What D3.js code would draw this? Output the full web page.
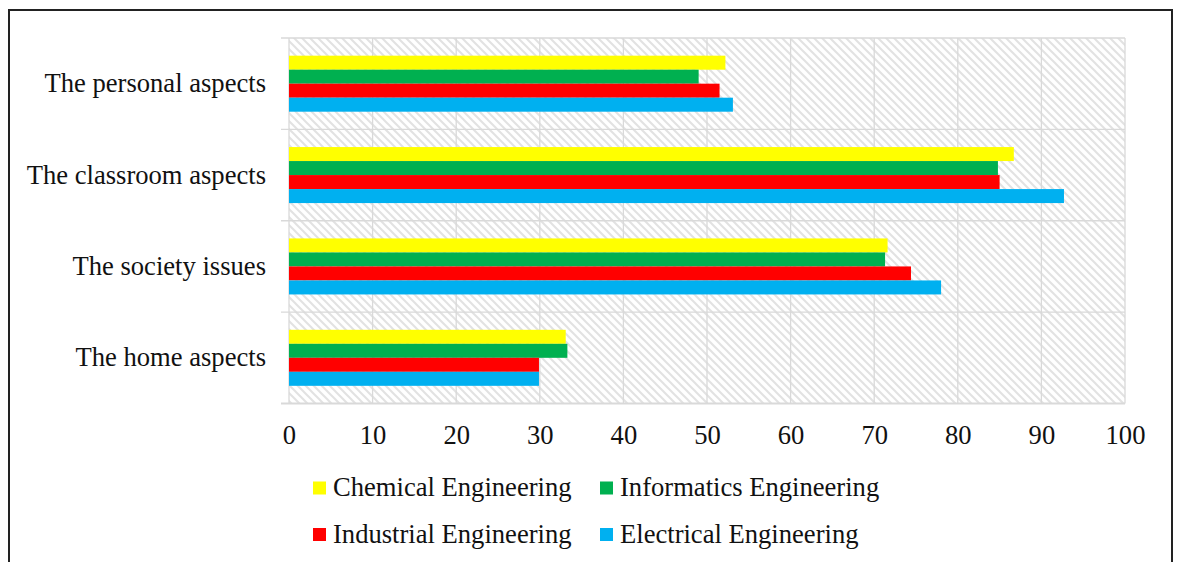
<!DOCTYPE html>
<html>
<head>
<meta charset="utf-8">
<script src="https://cdn.jsdelivr.net/npm/d3@7"></script>
<style>
  body { margin: 0; background: #fff; }
  svg text { font-family: 'Liberation Serif', 'Times New Roman', serif; fill: #111; }
</style>
</head>
<body>
<div id="container"></div>
<script>
const categories = ['The personal aspects', 'The classroom aspects', 'The society issues', 'The home aspects'];
const seriesNames = ['Chemical Engineering', 'Informatics Engineering', 'Industrial Engineering', 'Electrical Engineering'];
const chemical = [52.2, 86.7, 71.6, 33.1];
const informatics = [49.0, 84.8, 71.3, 33.3];
const industrial = [51.5, 85.0, 74.4, 29.9];
const electrical = [53.1, 92.7, 78.0, 29.9];
const xTicks = [0, 10, 20, 30, 40, 50, 60, 70, 80, 90, 100];

const svgWidth = 1180;
const svgHeight = 562;
const fontSize = '26.6px';
const colors = ['#ffff00', '#00b050', '#ff0000', '#00b0f0'];
const seriesValues = [chemical, informatics, industrial, electrical];

const svg = d3
  .select('#container')
  .append('svg')
  .attr('width', svgWidth)
  .attr('height', svgHeight);

// hatch pattern for the plot background
const pattern = svg
  .append('defs')
  .append('pattern')
  .attr('id', 'hatch')
  .attr('patternUnits', 'userSpaceOnUse')
  .attr('width', 8)
  .attr('height', 8);
pattern.append('rect').attr('width', 8).attr('height', 8).attr('fill', '#fff');
pattern
  .append('path')
  .attr('d', 'M-2,-2 L10,10 M-2,6 L2,10 M6,-2 L10,2')
  .attr('stroke', '#e2e2e2')
  .attr('stroke-width', 2);

// scales
const x = d3.scaleLinear().domain([0, 100]).range([289, 1125]);
const y = d3
  .scaleBand()
  .domain(categories)
  .range([38, 403.5])
  .paddingInner(0.387)
  .paddingOuter(0.1935);
const inner = d3.scaleBand().domain(seriesNames).range([0, y.bandwidth()]);

const bandEdges = categories.map(c => y(c) - (y.step() - y.bandwidth()) / 2);
bandEdges.push(y.range()[1]);

// plot background
svg
  .append('rect')
  .attr('x', x(0))
  .attr('y', y.range()[0])
  .attr('width', x(100) - x(0))
  .attr('height', y.range()[1] - y.range()[0])
  .attr('fill', 'url(#hatch)');

// gridlines
svg
  .selectAll('.vgrid')
  .data(xTicks)
  .enter()
  .append('line')
  .attr('x1', d => x(d))
  .attr('x2', d => x(d))
  .attr('y1', y.range()[0])
  .attr('y2', y.range()[1])
  .attr('stroke', '#d9d9d9')
  .attr('stroke-width', 1.3);

svg
  .selectAll('.hgrid')
  .data(bandEdges)
  .enter()
  .append('line')
  .attr('x1', x(0) - 8)
  .attr('x2', x(100))
  .attr('y1', d => d)
  .attr('y2', d => d)
  .attr('stroke', '#d9d9d9')
  .attr('stroke-width', d => (d === y.range()[1] ? 2 : 1.3));

// bars
seriesNames.forEach((name, s) => {
  svg
    .selectAll(`.bar-${s}`)
    .data(seriesValues[s])
    .enter()
    .append('rect')
    .attr('x', x(0))
    .attr('y', (d, i) => y(categories[i]) + inner(name))
    .attr('width', d => x(d) - x(0))
    .attr('height', inner.bandwidth())
    .attr('fill', colors[s]);
});

// axes
const xAxis = svg
  .append('g')
  .attr('transform', `translate(0, ${y.range()[1]})`)
  .call(d3.axisBottom(x).tickValues(xTicks).tickSize(0));
xAxis.select('.domain').remove();
xAxis
  .selectAll('text')
  .attr('y', 40)
  .attr('dy', 0)
  .style('font-size', fontSize)
  .style('font-family', "'Liberation Serif', 'Times New Roman', serif")
  .attr('fill', '#111');

const yAxis = svg
  .append('g')
  .attr('transform', `translate(${x(0)}, 0)`)
  .call(d3.axisLeft(y).tickSize(0).tickPadding(23));
yAxis.select('.domain').remove();
yAxis
  .selectAll('text')
  .attr('dy', '0.32em')
  .style('font-size', fontSize)
  .style('font-family', "'Liberation Serif', 'Times New Roman', serif")
  .attr('fill', '#111');

// legend
const legendX = [313, 600];
const legendY = [488, 534.5];
const legend = svg
  .selectAll('.legend-item')
  .data(seriesNames)
  .enter()
  .append('g')
  .attr('class', 'legend-item')
  .attr('transform', (d, i) => `translate(${legendX[i % 2]}, ${legendY[Math.floor(i / 2)]})`);

legend
  .append('rect')
  .attr('x', 0)
  .attr('y', -6.5)
  .attr('width', 13)
  .attr('height', 13)
  .attr('fill', (d, i) => colors[i]);

legend
  .append('text')
  .text(d => d)
  .attr('x', 20)
  .attr('y', 8)
  .style('font-size', fontSize);

// outer frame
svg
  .append('rect')
  .attr('x', 9)
  .attr('y', 10)
  .attr('width', 1163)
  .attr('height', 600)
  .attr('fill', 'none')
  .attr('stroke', '#222')
  .attr('stroke-width', 2);
</script>
</body>
</html>
